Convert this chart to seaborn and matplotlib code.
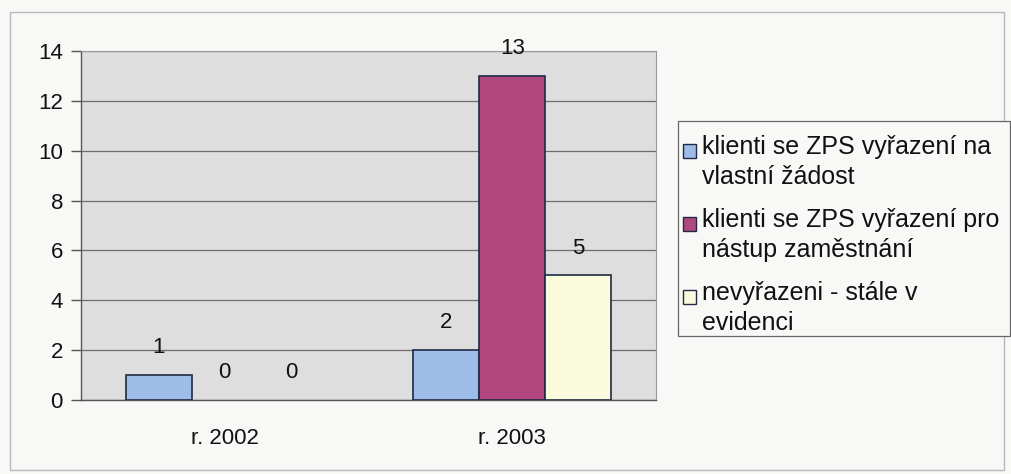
import matplotlib
matplotlib.use("Agg")
import matplotlib.pyplot as plt
from matplotlib.patches import Rectangle, Patch
from matplotlib.legend_handler import HandlerPatch
import pandas as pd
import seaborn as sns

# Data
years = ["r. 2002", "r. 2003"]
groups = [
    "klienti se ZPS vyřazení na\nvlastní žádost",
    "klienti se ZPS vyřazení pro\nnástup zaměstnání",
    "nevyřazeni - stále v\nevidenci",
]
values_2002 = [1, 0, 0]
values_2003 = [2, 13, 5]
y_ticks = [0, 2, 4, 6, 8, 10, 12, 14]

colors = ["#9EBCE8", "#B0487F", "#FAFBDC"]

rows = []
for yr, vals in zip(years, [values_2002, values_2003]):
    for g, v in zip(groups, vals):
        rows.append({"rok": yr, "skupina": g, "pocet": v})
df = pd.DataFrame(rows)


class FirstLineSquare(HandlerPatch):
    """Legend swatch aligned with the first line of a two-line label."""

    def __init__(self, lift, **kw):
        super().__init__(**kw)
        self.lift = lift

    def create_artists(self, legend, orig_handle, xdescent, ydescent,
                       width, height, fontsize, trans):
        p = Rectangle((-xdescent, -ydescent + self.lift), width, height)
        self.update_prop(p, orig_handle, legend)
        p.set_transform(trans)
        return [p]


sns.set_theme(style="white")
plt.rcParams["font.family"] = ["Liberation Sans", "DejaVu Sans"]

W, H = 1011, 474
fig = plt.figure(figsize=(W / 100, H / 100), dpi=100)
fig.patch.set_facecolor("#F8F8F6")

# outer chart frame
fig.patches.append(Rectangle((10 / W, 4 / H), 994 / W, 458 / H,
                             transform=fig.transFigure, fill=False,
                             edgecolor="#B8B8B8", linewidth=1.0))

ax = fig.add_axes([81 / W, 1 - 400 / H, 575 / W, 349 / H])
ax.set_facecolor("#DEDEDE")

sns.barplot(data=df, x="rok", y="pocet", hue="skupina", hue_order=groups,
            order=years, palette=colors, width=0.69, edgecolor="#1F2A44",
            linewidth=1.2, saturation=1, ax=ax, legend=False, zorder=3)

# zero-height bars leave no visible outline
for p in ax.patches:
    if p.get_height() == 0:
        p.set_linewidth(0)

for cont in ax.containers:
    ax.bar_label(cont, fmt="%g", padding=12, fontsize=16, color="#111111")

ax.set_ylim(0, 14)
ax.set_xlim(-0.5, 1.5)
ax.set_yticks(y_ticks)
ax.yaxis.grid(True, color="#6E6E6E", linewidth=0.9, zorder=0)
ax.set_axisbelow(True)

ax.tick_params(axis="y", which="major", direction="out", length=7, width=1,
               color="#555555", labelsize=16, labelcolor="#111111", pad=6, left=True)
ax.set_xticks([0, 1])
ax.set_xticklabels(years)
ax.tick_params(axis="x", which="major", length=0, labelsize=16,
               labelcolor="#111111", pad=20)
ax.set_xticks([-0.5, 0.5, 1.5], minor=True)
ax.tick_params(axis="x", which="minor", direction="out", length=7, width=1,
               color="#555555")

ax.set_xlabel("")
ax.set_ylabel("")
for side in ["left", "bottom"]:
    ax.spines[side].set_color("#555555")
    ax.spines[side].set_linewidth(1.0)
for side in ["top", "right"]:
    ax.spines[side].set_color("#9A9A9A")
    ax.spines[side].set_linewidth(0.8)

# legend box, drawn separately so the padding can differ per side
fig.patches.append(Rectangle((678 / W, 1 - 336 / H), 332 / W, 215 / H,
                             transform=fig.transFigure, facecolor="#F8F8F6",
                             edgecolor="#666666", linewidth=0.9, zorder=1))

handles = [Patch(facecolor=c, edgecolor="#1F2A44", linewidth=1.0) for c in colors]
leg = fig.legend(handles, groups, loc="upper left",
                 bbox_to_anchor=(683 / W, 1 - 135 / H), borderaxespad=0,
                 fontsize=18, frameon=False,
                 handlelength=0.5, handleheight=0.5, handletextpad=0.25,
                 labelspacing=0.78, borderpad=0,
                 handler_map={Patch: FirstLineSquare(lift=8.5)})
leg.set_zorder(2)
for t in leg.get_texts():
    t.set_linespacing(1.3)
    t.set_color("#111111")

fig.savefig("out.png", dpi=100, facecolor=fig.get_facecolor())
